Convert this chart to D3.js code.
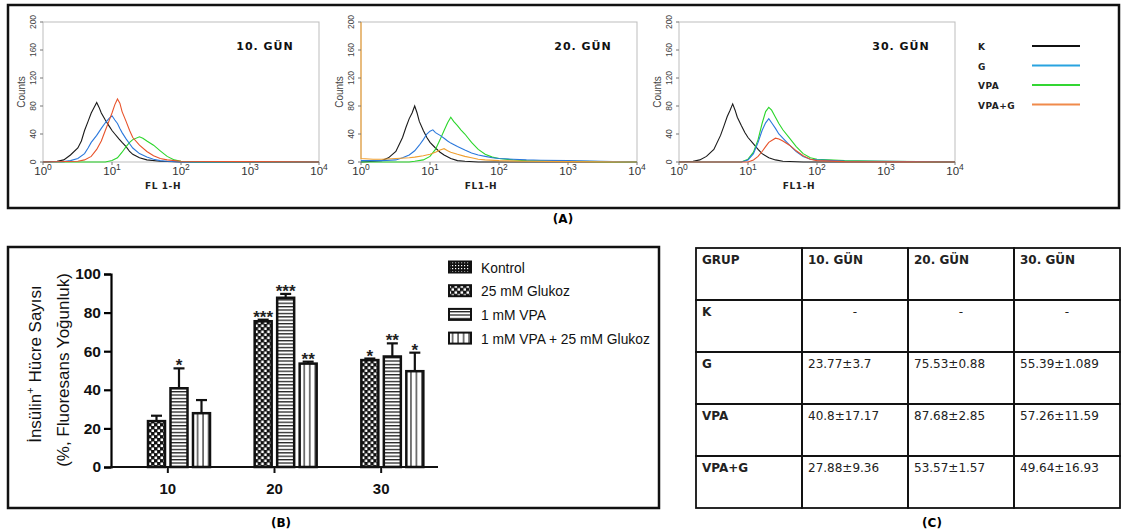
<!DOCTYPE html>
<html>
<head>
<meta charset="utf-8">
<script src="https://cdn.jsdelivr.net/npm/d3@7"></script>
<style>
  body { margin: 0; background: #fff; }
  svg { display: block; }
  text { font-family: Arial, "Liberation Sans", sans-serif; }
  .dv { font-family: "DejaVu Sans", Verdana, sans-serif; }
</style>
</head>
<body>
<div id="holder"></div>
<script>
//*************
// data
//*************

// panel A - flow histograms, [FL1 value, counts]
var histTitles = ["10. GÜN", "20. GÜN", "30. GÜN"];
var histXTitles = ["FL 1-H", "FL1-H", "FL1-H"];
var histGroups = ["K", "G", "VPA", "VPA+G"];
var histYTicks = [0, 40, 80, 120, 160, 200];
var histXTicks = [1, 10, 100, 1000, 10000];

var hist10K = [[1,0],[1.6,1],[2,3],[2.5,10],[3.2,20],[3.6,30],[4,45],[4.5,58],[5,70],[5.5,78],[6,85],[6.5,78],[7,70],[8,60],[9,52],[10,45],[11,40],[12.6,33],[14,28],[16,22],[18,15],[20,11],[25,6],[32,3],[50,1],[100,0],[10000,0]];
var hist10G = [[1,0],[2,0.5],[2.5,2],[3.2,5],[4,12],[4.5,20],[5,28],[6,38],[7,48],[8,56],[9,62],[10,66],[11,60],[12,55],[13,48],[14,42],[16,33],[18,26],[20,20],[25,12],[32,7],[40,4],[50,2],[63,1],[100,0],[10000,0]];
var hist10V = [[1,0],[8,0],[10,2],[12,6],[14,14],[16,22],[18,28],[20,32],[25,36],[28,34],[32,30],[40,24],[50,16],[63,8],[80,3],[100,1],[160,0],[10000,0]];
var hist10VG = [[1,0],[3.2,1],[4,3],[5,8],[6,18],[7,30],[8,45],[9,58],[10,70],[11,82],[12,90],[13,84],[14,72],[16,58],[18,45],[20,35],[25,24],[32,15],[40,9],[50,5],[63,3],[100,1],[1000,0.5],[10000,0]];

var hist20K = [[1,0],[1.6,1],[2,2],[2.5,6],[3.2,15],[4,35],[4.5,50],[5,62],[5.5,70],[6,80],[6.5,70],[7,58],[8,45],[9,35],[10,28],[12,20],[14,14],[16,10],[20,5],[25,2],[32,1],[50,0],[10000,0]];
var hist20G = [[1,2],[2,2],[3.2,3],[4,6],[5,10],[6,16],[7,24],[8,32],[9,40],[10,44],[11,46],[12,42],[14,38],[16,34],[18,30],[20,27],[25,22],[32,17],[40,13],[50,10],[63,8],[80,6],[100,5],[160,4],[250,3],[400,2.5],[1000,2],[3000,1],[10000,0]];
var hist20V = [[1,0],[5,0],[6,1],[8,3],[10,8],[12,18],[14,32],[16,45],[18,56],[20,64],[22,58],[25,52],[28,46],[32,40],[40,28],[50,18],[63,11],[80,7],[100,5],[160,3],[250,2],[1000,1],[3000,0.5],[10000,0]];
var hist20VG = [[1,200],[1,5],[1.5,4],[2,4],[3.2,5],[5,6],[6,7],[8,9],[10,11],[12,14],[14,17],[16,19],[18,16],[20,14],[25,11],[32,8],[40,6],[50,4],[63,3],[100,2],[250,1],[1000,0.5],[10000,0]];

var hist30K = [[1,0],[1.6,1],[2,3],[2.5,8],[3.2,18],[4,38],[4.5,52],[5,65],[5.5,74],[6,83],[6.5,74],[7,64],[8,52],[9,42],[10,35],[12,26],[14,18],[16,12],[20,6],[25,3],[32,1],[63,0],[10000,0]];
var hist30G = [[1,0],[8,0],[10,3],[12,12],[14,28],[16,45],[18,56],[20,62],[22,56],[25,48],[28,40],[32,34],[40,24],[50,15],[63,8],[80,4],[100,3],[250,1.5],[1000,1],[10000,0]];
var hist30V = [[1,0],[8,0],[10,4],[12,14],[14,32],[16,55],[18,72],[20,78],[22,74],[25,64],[28,55],[32,46],[40,34],[50,22],[63,12],[80,6],[100,4],[250,2],[1000,1],[3000,0.5],[10000,0]];
var hist30VG = [[1,0],[10,0],[12,3],[14,8],[16,15],[18,22],[20,28],[25,34],[28,33],[32,30],[40,24],[50,16],[63,9],[80,4],[100,2],[250,0.5],[10000,0]];

// panel B - bar chart
var barDays = ["10", "20", "30"];
var barSeries = ["Kontrol", "25 mM Glukoz", "1 mM VPA", "1 mM VPA + 25 mM Glukoz"];
var barYTicks = [0, 20, 40, 60, 80, 100];
var kontrolVals = [null, null, null];
var glukozVals = [23.77, 75.53, 55.39];
var vpaVals = [40.8, 87.68, 57.26];
var vpaGVals = [27.88, 53.57, 49.64];
var kontrolErr = [null, null, null];
var glukozErr = [2.8, 0.8, 0.8];
var vpaErr = [10.3, 2.0, 6.8];
var vpaGErr = [6.8, 1.0, 9.6];
var kontrolStars = ["", "", ""];
var glukozStars = ["", "***", "*"];
var vpaStars = ["*", "***", "**"];
var vpaGStars = ["", "**", "*"];

// panel C - table
var tableHead = ["GRUP", "10. GÜN", "20. GÜN", "30. GÜN"];
var tableGroups = ["K", "G", "VPA", "VPA+G"];
var tableK = ["-", "-", "-"];
var tableG = ["23.77±3.7", "75.53±0.88", "55.39±1.089"];
var tableVPA = ["40.8±17.17", "87.68±2.85", "57.26±11.59"];
var tableVPAG = ["27.88±9.36", "53.57±1.57", "49.64±16.93"];

//*************
// drawing
//*************

var svg = d3.select("#holder").append("svg")
	.attr("width", 1128)
	.attr("height", 531);

var defs = svg.append("defs");

// fill patterns for the bars
var pKon = defs.append("pattern").attr("id", "pKon").attr("patternUnits", "userSpaceOnUse")
	.attr("width", 3).attr("height", 3);
pKon.append("rect").attr("width", 3).attr("height", 3).attr("fill", "#111");
pKon.append("rect").attr("x", 1).attr("y", 1).attr("width", 1.2).attr("height", 1.2).attr("fill", "#fff");

var pGlu = defs.append("pattern").attr("id", "pGlu").attr("patternUnits", "userSpaceOnUse")
	.attr("width", 6).attr("height", 6);
pGlu.append("rect").attr("width", 6).attr("height", 6).attr("fill", "#111");
pGlu.append("rect").attr("x", 0.5).attr("y", 0.5).attr("width", 2.6).attr("height", 2.6).attr("fill", "#fff");
pGlu.append("rect").attr("x", 3.5).attr("y", 3.5).attr("width", 2.6).attr("height", 2.6).attr("fill", "#fff");

var pVpa = defs.append("pattern").attr("id", "pVpa").attr("patternUnits", "userSpaceOnUse")
	.attr("width", 4).attr("height", 3.4);
pVpa.append("rect").attr("width", 4).attr("height", 3.4).attr("fill", "#fff");
pVpa.append("rect").attr("y", 0).attr("width", 4).attr("height", 1.3).attr("fill", "#222");

var pVpaG = defs.append("pattern").attr("id", "pVpaG").attr("patternUnits", "userSpaceOnUse")
	.attr("width", 5.5).attr("height", 4);
pVpaG.append("rect").attr("width", 5.5).attr("height", 4).attr("fill", "#fff");
pVpaG.append("rect").attr("x", 4).attr("width", 1.2).attr("height", 4).attr("fill", "#222");

var barFills = ["url(#pKon)", "url(#pGlu)", "url(#pVpa)", "url(#pVpaG)"];

//---- panel A ----
svg.append("rect").attr("x", 8).attr("y", 5).attr("width", 1111).attr("height", 203)
	.attr("fill", "none").attr("stroke", "#111").attr("stroke-width", 2.5);

var histData = [
	[hist10K, hist10V, hist10G, hist10VG],
	[hist20K, hist20V, hist20G, hist20VG],
	[hist30K, hist30V, hist30G, hist30VG]
];
var histColors = [
	["#1a1a1a", "#2bd62b", "#2b78dc", "#e8532b"],
	["#1a1a1a", "#2bd62b", "#2b78dc", "#f0a030"],
	["#1a1a1a", "#2bd62b", "#2b78dc", "#e8532b"]
];
var histLeft = [43, 361, 679];

histData.forEach(function(curves, pi) {
	var x = d3.scaleLog().domain([1, 10000]).range([histLeft[pi], histLeft[pi] + 276]);
	var y = d3.scaleLinear().domain([0, 200]).range([162, 22]);
	var g = svg.append("g");

	g.append("rect").attr("x", x(1)).attr("y", y(200))
		.attr("width", x(10000) - x(1)).attr("height", y(0) - y(200))
		.attr("fill", "#fff").attr("stroke", "#bdbdbd").attr("stroke-width", 1);

	var line = d3.line().x(function(d) { return x(d[0]); }).y(function(d) { return y(d[1]); });
	curves.forEach(function(c, ci) {
		g.append("path").datum(c).attr("d", line)
			.attr("fill", "none").attr("stroke", histColors[pi][ci]).attr("stroke-width", 1.1);
	});

	// x ticks 10^n
	var xt = g.selectAll(".xt").data(histXTicks).enter().append("g")
		.attr("transform", function(d) { return "translate(" + x(d) + ",0)"; });
	xt.append("line").attr("y1", y(0)).attr("y2", y(0) + 3).attr("stroke", "#777");
	var xl = xt.append("text").attr("y", 175).attr("text-anchor", "middle")
		.attr("font-size", 11.5).attr("fill", "#333");
	xl.append("tspan").text("10");
	xl.append("tspan").attr("dy", -5).attr("font-size", 8.5).text(function(d) { return Math.round(Math.log10(d)); });

	// y ticks, rotated labels
	var yt = g.selectAll(".yt").data(histYTicks).enter().append("g")
		.attr("transform", function(d) { return "translate(" + x(1) + "," + y(d) + ")"; });
	yt.append("line").attr("x1", -3).attr("x2", 0).attr("stroke", "#777");
	yt.append("text").attr("transform", "translate(-7,0) rotate(-90)")
		.attr("text-anchor", "middle").attr("font-size", 8.5).attr("fill", "#444").text(function(d) { return d; });

	g.append("text").attr("transform", "translate(" + (x(1) - 18) + ",92) rotate(-90)")
		.attr("text-anchor", "middle").attr("font-size", 10).attr("fill", "#444").text("Counts");

	g.append("text").attr("class", "dv").attr("x", x(1) + 120).attr("y", 189)
		.attr("text-anchor", "middle").attr("font-size", 9).attr("font-weight", "bold")
		.attr("letter-spacing", 0.6).attr("fill", "#222").text(histXTitles[pi]);

	g.append("text").attr("class", "dv").attr("x", x(1) + 222).attr("y", 50)
		.attr("text-anchor", "middle").attr("font-size", 11).attr("font-weight", "bold")
		.attr("letter-spacing", 1).attr("fill", "#111").text(histTitles[pi]);
});

// legend A
var legAColors = ["#111", "#29a3e0", "#33d633", "#f08a4b"];
var legA = svg.selectAll(".legA").data(histGroups).enter().append("g")
	.attr("transform", function(d, i) { return "translate(978," + (46 + i * 19.5) + ")"; });
legA.append("text").attr("class", "dv").attr("y", 4).attr("font-size", 9).attr("font-weight", "bold")
	.attr("letter-spacing", 0.5).attr("fill", "#222").text(function(d) { return d; });
legA.append("line").attr("x1", 54).attr("x2", 102)
	.attr("stroke", function(d, i) { return legAColors[i]; }).attr("stroke-width", 2);

svg.append("text").attr("class", "dv").attr("x", 563).attr("y", 223).attr("text-anchor", "middle")
	.attr("font-size", 12).attr("font-weight", "bold").text("(A)");

//---- panel B ----
svg.append("rect").attr("x", 8).attr("y", 247).attr("width", 651).attr("height", 261)
	.attr("fill", "none").attr("stroke", "#111").attr("stroke-width", 2.5);

var bx0 = d3.scaleBand().domain(barDays).range([114.5, 434.5]);
var bx1 = d3.scaleBand().domain(barSeries).range([11, 95.5]).paddingInner(0.244);
var by = d3.scaleLinear().domain([0, 100]).range([467, 274]);

var seriesVals = [kontrolVals, glukozVals, vpaVals, vpaGVals];
var seriesErr = [kontrolErr, glukozErr, vpaErr, vpaGErr];
var seriesStars = [kontrolStars, glukozStars, vpaStars, vpaGStars];

var bars = [];
barDays.forEach(function(day, di) {
	barSeries.forEach(function(s, si) {
		if (seriesVals[si][di] == null) return;
		bars.push({day: day, series: s, si: si, v: seriesVals[si][di], e: seriesErr[si][di], star: seriesStars[si][di]});
	});
});

var bg = svg.append("g");
var bar = bg.selectAll(".bar").data(bars).enter().append("g")
	.attr("transform", function(d) { return "translate(" + (bx0(d.day) + bx1(d.series)) + ",0)"; });
var bw = bx1.bandwidth();

bar.append("line").attr("x1", bw / 2).attr("x2", bw / 2)
	.attr("y1", function(d) { return by(d.v); }).attr("y2", function(d) { return by(d.v + d.e); })
	.attr("stroke", "#111").attr("stroke-width", 2.2);
bar.append("line").attr("x1", bw / 2 - 5.5).attr("x2", bw / 2 + 5.5)
	.attr("y1", function(d) { return by(d.v + d.e); }).attr("y2", function(d) { return by(d.v + d.e); })
	.attr("stroke", "#111").attr("stroke-width", 2.2);
bar.append("rect").attr("y", function(d) { return by(d.v); })
	.attr("width", bw).attr("height", function(d) { return by(0) - by(d.v); })
	.attr("fill", function(d) { return barFills[d.si]; })
	.attr("stroke", "#111").attr("stroke-width", 2.5);
bar.append("text").attr("x", bw / 2).attr("y", function(d) { return by(d.v + d.e) + 3; })
	.attr("text-anchor", "middle").attr("font-size", 17).attr("font-weight", "bold").attr("fill", "#222")
	.text(function(d) { return d.star; });

// axes
var yAxis = d3.axisLeft(by).tickValues(barYTicks).tickSize(7).tickPadding(3);
var ya = svg.append("g").attr("transform", "translate(111,0)").call(yAxis);
ya.select(".domain").attr("stroke-width", 2.2);
ya.selectAll(".tick line").attr("stroke-width", 2.2);
ya.selectAll(".tick text").attr("font-size", 15.5).attr("font-weight", "bold").attr("fill", "#111")
	.attr("font-family", "Arial, 'Liberation Sans', sans-serif");

svg.append("line").attr("x1", 110).attr("x2", 438).attr("y1", by(0)).attr("y2", by(0))
	.attr("stroke", "#111").attr("stroke-width", 2.2);
var xa = svg.selectAll(".bxt").data(barDays).enter().append("g")
	.attr("transform", function(d) { return "translate(" + (bx0(d) + bx0.bandwidth() / 2) + "," + by(0) + ")"; });
xa.append("line").attr("y2", 6).attr("stroke", "#111").attr("stroke-width", 2);
xa.append("text").attr("y", 27).attr("text-anchor", "middle").attr("font-size", 15)
	.attr("font-weight", "bold").attr("fill", "#111").text(function(d) { return d; });

var yTitle = svg.append("text").attr("transform", "translate(41,364) rotate(-90)")
	.attr("text-anchor", "middle").attr("font-size", 17).attr("fill", "#111");
yTitle.append("tspan").text("İnsülin");
yTitle.append("tspan").attr("dy", -7).attr("font-size", 11).text("+");
yTitle.append("tspan").attr("dy", 7).text(" Hücre Sayısı");
svg.append("text").attr("transform", "translate(69,370) rotate(-90)")
	.attr("text-anchor", "middle").attr("font-size", 17).attr("fill", "#111")
	.text("(%, Fluoresans Yoğunluk)");

// legend B
var legB = svg.selectAll(".legB").data(barSeries).enter().append("g")
	.attr("transform", function(d, i) { return "translate(448," + (267 + i * 23.7) + ")"; });
legB.append("rect").attr("x", 1).attr("y", -5.5).attr("width", 22).attr("height", 11)
	.attr("fill", function(d, i) { return barFills[i]; }).attr("stroke", "#111").attr("stroke-width", 2);
legB.append("text").attr("x", 33).attr("y", 5.5).attr("font-size", 13.8).attr("fill", "#111")
	.text(function(d) { return d; });

svg.append("text").attr("class", "dv").attr("x", 281).attr("y", 527).attr("text-anchor", "middle")
	.attr("font-size", 12).attr("font-weight", "bold").text("(B)");

//---- panel C ----
var tRows = [tableHead].concat([tableK, tableG, tableVPA, tableVPAG].map(function(r, i) {
	return [tableGroups[i]].concat(r);
}));
var tcx = d3.scaleBand().domain(d3.range(4)).range([696, 1120]);
var tcy = d3.scaleBand().domain(d3.range(5)).range([248, 508]);

var tg = svg.append("g");
tRows.forEach(function(row, ri) {
	row.forEach(function(cell, ci) {
		tg.append("rect").attr("x", tcx(ci)).attr("y", tcy(ri))
			.attr("width", tcx.bandwidth()).attr("height", tcy.bandwidth())
			.attr("fill", "none").attr("stroke", "#111").attr("stroke-width", 1.8);
		var dash = cell === "-";
		tg.append("text").attr("class", "dv")
			.attr("x", dash ? tcx(ci) + tcx.bandwidth() / 2 : tcx(ci) + 6)
			.attr("y", tcy(ri) + 16)
			.attr("text-anchor", dash ? "middle" : "start")
			.attr("font-size", 12).attr("fill", "#222")
			.attr("font-weight", (ri === 0 || ci === 0) ? "bold" : "normal")
			.text(cell);
	});
});

svg.append("text").attr("class", "dv").attr("x", 932).attr("y", 527).attr("text-anchor", "middle")
	.attr("font-size", 12).attr("font-weight", "bold").text("(C)");
</script>
</body>
</html>
